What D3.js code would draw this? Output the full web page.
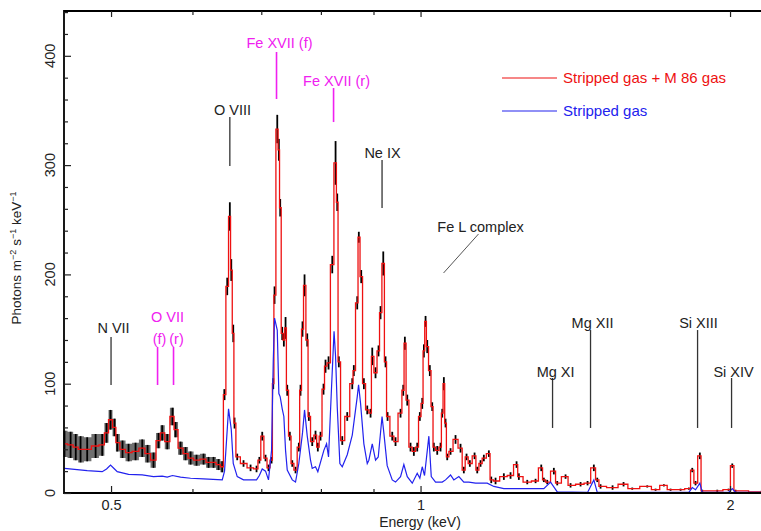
<!DOCTYPE html>
<html><head><meta charset="utf-8">
<script src="https://cdn.jsdelivr.net/npm/d3@7"></script>
<style>
body{margin:0;background:#fff;}
svg{display:block;font-family:"Liberation Sans",Arial,sans-serif;}
</style></head><body>
<svg id="c" width="761" height="531"></svg>
<script>
// ---- data ----
const energy = [0.4505,0.4567,0.4620,0.4670,0.4740,0.4830,0.4902,0.4950,0.4994,0.5039,0.5070,0.5130,0.5200,0.5282,0.5362,0.5426,0.5499,0.5561,0.5607,0.5671,0.5738,0.5777,0.5842,0.5908,0.5975,0.6055,0.6151,0.6220,0.6290,0.6361,0.6414,
0.6447,0.6486,0.6524,0.6545,0.6574,0.6593,0.6633,0.6727,0.6834,0.6926,0.6970,0.7015,0.7067,0.7114,0.7163,0.7190,0.7211,0.7255,0.7281,0.7303,0.7336,0.7363,0.7391,0.7419,0.7462,0.7503,0.7558,0.7614,0.7643,0.7677,0.7712,0.7759,0.7787,0.7846,0.7904,0.7945,0.7993,0.8047,0.8083,0.8138,0.8206,0.8267,0.8298,0.8328,0.8392,0.8486,0.8582,0.8612,0.8678,0.8709,0.8756,0.8808,0.8875,0.8941,0.8975,0.9041,0.9102,0.9143,0.9199,0.9246,0.9288,0.9386,0.9455,0.9562,0.9620,0.9655,0.9707,0.9778,0.9851,0.9926,0.9984,
1.0038,1.0075,1.0113,1.0151,1.0210,1.0265,1.0302,1.0381,1.0458,1.0498,1.0536,1.0576,1.0616,1.0695,1.0815,1.0937,1.1018,1.1085,1.1167,1.1286,1.1354,1.1438,1.1523,1.1653,1.1716,1.1829,1.2051,1.2233,1.2399,1.2463,1.2700,1.2938,1.3104,1.3180,1.3281,1.3479,1.3582,1.3837,1.3993,1.4310,1.4536,1.4742,1.4855,1.4965,1.5373,1.5756,1.6066,1.6615,1.6927,1.7245,1.7505,1.7902,1.8238,1.8377,1.8513,1.8692,1.8793,1.9435,1.9934,2.0100,2.0249,2.1464];
const total = [45,44,42,40,40,43,44,55,67,60,46,40,37,38,41,36,30,48,55,47,70,58,41,36,32,30,31,28,28,26,24,
90,189,253,204,146,64,33,27,23,22,30,52,32,23,30,100,181,333,314,261,146,140,151,94,52,27,21,42,94,150,190,140,70,47,53,42,52,95,116,119,209,302,266,120,48,70,100,112,174,234,198,100,76,73,125,110,130,165,210,120,70,52,47,73,94,137,85,42,38,42,70,
82,130,157,134,112,79,42,39,42,73,100,64,33,38,49,41,21,33,27,34,21,27,32,36,12,11,15,16,26,15,10,11,23,12,10,20,9,15,7,8,9,23,12,6,5,8,4,6,3,7,3,3,4,21,9,34,2,2,3,25,2,1];
const totalErr = [12,12,12,12,11,11,10,9,9,8,8,8,8,8,8,8,7,7,7,7,8,7,6,6,6,5,5,5,5,5,5,
5,8,13,10,8,5,3,3,3,3,3,4,3,3,3,5,8,13,10,8,6,6,10,5,4,3,3,4,5,7,10,6,4,4,4,4,4,5,6,6,8,20,8,5,4,4,5,5,6,5,6,5,4,4,8,5,5,6,11,5,4,4,4,4,5,6,5,4,4,4,4,
5,6,5,6,5,4,4,4,4,4,6,4,3,3,4,4,3,3,3,3,3,3,3,3,3,3,3,3,3,3,2,2,3,2,2,3,2,2,2,2,2,3,2,2,2,2,1,1,1,1,1,1,1,2,2,3,1,1,1,2,1,1];
const modelEnergy = [0.4505,0.4740,0.4902,0.4950,0.4994,0.5039,0.5070,0.5200,0.5362,0.5499,0.5607,0.5671,0.5738,0.5842,0.5975,0.6151,0.6414,0.6447,0.6486,0.6505,0.6545,0.6574,0.6633,0.6727,0.6926,0.6970,0.7015,0.7067,0.7114,0.7163,0.7190,0.7211,0.7255,0.7281,0.7303,0.7336,0.7363,0.7391,0.7419,0.7503,0.7558,0.7614,0.7677,0.7712,0.7759,0.7816,0.7846,0.7904,0.7945,0.8053,0.8102,0.8138,0.8193,0.8239,0.8267,0.8298,0.8347,0.8392,0.8486,0.8582,0.8645,0.8678,0.8704,0.8743,0.8808,0.8875,0.8907,0.8975,0.9041,0.9096,0.9174,0.9211,0.9280,0.9386,0.9455,0.9562,0.9633,0.9707,0.9816,0.9926,0.9984,1.0038,1.0090,1.0188,1.0243,1.0342,1.0498,1.0576,1.0695,1.0774,1.0896,1.1018,1.1142,1.1311,1.1611,1.1784,1.2051,1.2324,1.3180,1.3380,1.3582,1.4536,1.4742,1.4855,1.8238,1.8377,1.8513,1.8692,1.8793,1.9934,2.0100,2.0249,2.1464];
const model = [22.5,20.5,19.5,22,25.5,22,19.5,17,16.5,15,15.5,14.5,16,14.5,13.5,13,12,20,58,77,58,27,15,12,12,16,22,20,12,39,120,160,149,91,88,77,70,39,21,12,10,27,55,76,52,30,22.6,24,19.5,39,45,33,97,148,125,79,27,24,35,53,76,88,99,82,45,27,30,45,30,33,70,55,25,12,10,15,26,15,9,18,13.5,24,16,52,15,10,10,12,16.5,12,15,10,10,9,9,6,4,4,4,10,1,0.5,12,0.5,0.5,5,3,9,0.5,0.5,4,0.5,0.5];
const grayBandLimit = 0.645;
const xMajorTicks = [0.5, 1, 2];
const xTickLabels = ["0.5", "1", "2"];
const xMinorTicks = [0.6, 0.7, 0.8, 0.9];
const yMajorTicks = [0, 100, 200, 300, 400];
const yMinorTicks = d3.range(0, 441, 20);
// line identifications: energy (keV), marker top / bottom (photons)
const lineMarks = [
  {e:0.500, top:142.7, bottom:98.8, c:"k"},
  {e:0.5549, top:133.6, bottom:98.8, c:"m"},
  {e:0.5751, top:133.6, bottom:98.8, c:"m"},
  {e:0.6524, top:344, bottom:299.2, c:"k"},
  {e:0.7243, top:403.5, bottom:360.5, c:"m"},
  {e:0.8230, top:370.5, bottom:339.4, c:"m"},
  {e:0.9174, top:304.7, bottom:260.8, c:"k"},
  {e:1.344, top:105.2, bottom:59.5, c:"k"},
  {e:1.4633, top:149.1, bottom:59.5, c:"k"},
  {e:1.8597, top:149.1, bottom:59.5, c:"k"},
  {e:2.0068, top:105.2, bottom:59.5, c:"k"}
];
const lineLabels = [
  {t:"N VII", e:0.5028, v:146.4, c:"k"},
  {t:"O VII", e:0.5674, v:156.4, c:"m"},
  {t:"(f)", e:0.5574, v:136.3, c:"m"},
  {t:"(r)", e:0.5790, v:136.3, c:"m"},
  {t:"O VIII", e:0.6564, v:345.8, c:"k"},
  {t:"Fe XVII (f)", e:0.7292, v:407.1, c:"m"},
  {t:"Fe XVII (r)", e:0.8285, v:372.4, c:"m"},
  {t:"Ne IX", e:0.9184, v:306.5, c:"k"},
  {t:"Fe L complex", e:1.1438, v:238.8, c:"k"},
  {t:"Mg XI", e:1.3531, v:106.1, c:"k"},
  {t:"Mg XII", e:1.4699, v:151.0, c:"k"},
  {t:"Si XIII", e:1.8638, v:151.0, c:"k"},
  {t:"Si XIV", e:2.0158, v:106.1, c:"k"}
];
const feLPointer = [{e:1.1387, v:237}, {e:1.0529, v:201.3}];
const legendItems = [{t:"Stripped gas + M 86 gas", c:"#ee1111"}, {t:"Stripped gas", c:"#2222ee"}];

// ---- drawing ----
const svg = d3.select("#c");
const L = 64, T = 11, B = 493;
const x = d3.scaleLog().domain([0.45, 2.2]).range([L, L + 309.5 * Math.log2(2.2 / 0.45)]);
const y = d3.scaleLinear().domain([0, 441]).range([B, T]);
const col = c => c === "m" ? "#f020f0" : "#333";

const pts = energy.map((e, i) => ({e, v: total[i], err: totalErr[i]}));
const band = pts.filter(d => d.e < grayBandLimit);

svg.append("path").datum(band)
  .attr("fill", "#707070")
  .attr("d", d3.area().curve(d3.curveStep).x(d => x(d.e)).y0(d => y(d.v - d.err)).y1(d => y(d.v + d.err)));

svg.append("g").selectAll("line").data(pts).join("line")
  .attr("x1", d => x(d.e)).attr("x2", d => x(d.e))
  .attr("y1", d => y(Math.max(0, d.v - d.err))).attr("y2", d => y(d.v + d.err))
  .attr("stroke", "#000").attr("stroke-width", 1.8);

svg.append("path").datum(pts)
  .attr("fill", "none").attr("stroke", "#ee1111").attr("stroke-width", 1.3)
  .attr("d", d3.line().curve(d3.curveStep).x(d => x(d.e)).y(d => y(d.v)));

svg.append("path").datum(modelEnergy.map((e, i) => ({e, v: model[i]})))
  .attr("fill", "none").attr("stroke", "#2222ee").attr("stroke-width", 1.2)
  .attr("d", d3.line().x(d => x(d.e)).y(d => y(d.v)));

// frame
const R = x.range()[1];
svg.append("path").attr("d", `M${R},${T}H${L}V${B}H${R}`).attr("fill", "none").attr("stroke", "#000").attr("stroke-width", 1.8);

// axes
const xAxisB = d3.axisBottom(x).tickValues(xMajorTicks).tickSize(-7).tickFormat((d, i) => xTickLabels[i]).tickPadding(7);
const gxb = svg.append("g").attr("transform", `translate(0,${B})`).call(xAxisB);
const gxb2 = svg.append("g").attr("transform", `translate(0,${B})`).call(d3.axisBottom(x).tickValues(xMinorTicks).tickSize(-4).tickFormat(""));
const gxt = svg.append("g").attr("transform", `translate(0,${T})`).call(d3.axisTop(x).tickValues(xMajorTicks).tickSize(-6).tickFormat(""));
const gxt2 = svg.append("g").attr("transform", `translate(0,${T})`).call(d3.axisTop(x).tickValues(xMinorTicks).tickSize(-4).tickFormat(""));
const gy = svg.append("g").attr("transform", `translate(${L},0)`).call(d3.axisLeft(y).tickValues(yMajorTicks).tickSize(-7).tickFormat(""));
const gy2 = svg.append("g").attr("transform", `translate(${L},0)`).call(d3.axisLeft(y).tickValues(yMinorTicks.filter(v => v % 100)).tickSize(-4).tickFormat(""));
[gxb, gxb2, gxt, gxt2, gy, gy2].forEach(g => {
  g.select(".domain").remove();
  g.selectAll(".tick line").attr("stroke", "#222").attr("stroke-width", 1.2);
});
gxb.selectAll(".tick text").attr("font-size", 14.5).attr("fill", "#222").attr("font-family", "Liberation Sans, Arial, sans-serif");

// y tick labels, rotated
svg.append("g").selectAll("text").data(yMajorTicks).join("text")
  .attr("transform", d => `translate(50,${y(d)}) rotate(-90)`)
  .attr("text-anchor", "middle").attr("dominant-baseline", "central")
  .attr("font-size", 14.5).attr("fill", "#222").text(d => d);

// axis titles
svg.append("text").attr("x", 420).attr("y", 527).attr("text-anchor", "middle")
  .attr("font-size", 14).attr("fill", "#222").text("Energy (keV)");
const yt = svg.append("text").attr("transform", "translate(21,258) rotate(-90)")
  .attr("text-anchor", "middle").attr("font-size", 13.5).attr("fill", "#222");
yt.append("tspan").text("Photons m");
yt.append("tspan").attr("dy", -5).attr("font-size", 9).text("−2");
yt.append("tspan").attr("dy", 5).text(" s");
yt.append("tspan").attr("dy", -5).attr("font-size", 9).text("−1");
yt.append("tspan").attr("dy", 5).text(" keV");
yt.append("tspan").attr("dy", -5).attr("font-size", 9).text("−1");

// line identifications
svg.append("g").selectAll("line").data(lineMarks).join("line")
  .attr("x1", d => x(d.e)).attr("x2", d => x(d.e))
  .attr("y1", d => y(d.top)).attr("y2", d => y(d.bottom))
  .attr("stroke", d => col(d.c)).attr("stroke-width", d => d.c === "m" ? 1.6 : 1.3);
svg.append("line")
  .attr("x1", x(feLPointer[0].e)).attr("y1", y(feLPointer[0].v))
  .attr("x2", x(feLPointer[1].e)).attr("y2", y(feLPointer[1].v))
  .attr("stroke", "#555").attr("stroke-width", 1);
svg.append("g").selectAll("text").data(lineLabels).join("text")
  .attr("x", d => x(d.e)).attr("y", d => y(d.v)).attr("text-anchor", "middle")
  .attr("font-size", 14.5).attr("fill", d => d.c === "m" ? "#f020f0" : "#222").text(d => d.t);

// legend
const lg = svg.append("g").selectAll("g").data(legendItems).join("g")
  .attr("transform", (d, i) => `translate(502,${78 + i * 33})`);
lg.append("line").attr("x1", 0).attr("x2", 55).attr("stroke", d => d.c).attr("stroke-width", 1.2);
lg.append("text").attr("x", 61).attr("dy", "0.35em").attr("font-size", 15).attr("fill", d => d.c).text(d => d.t);
</script></body></html>
